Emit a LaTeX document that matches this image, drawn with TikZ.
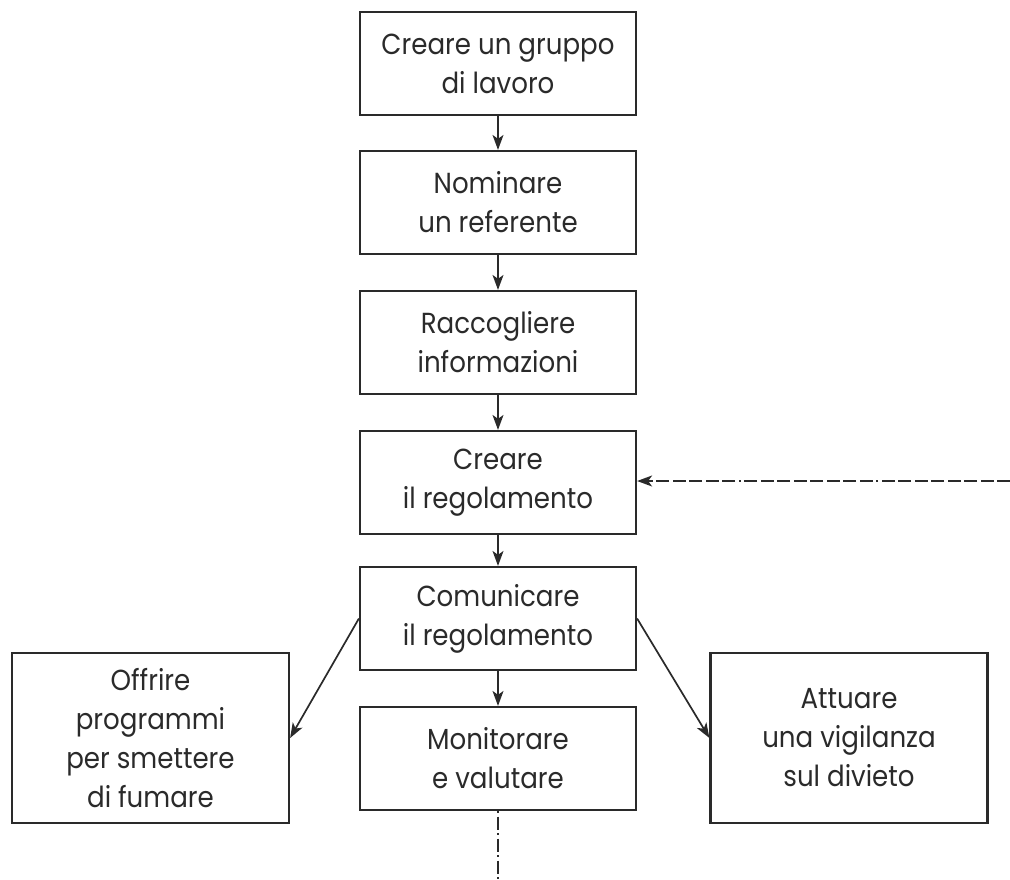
\documentclass[tikz,border=0pt]{standalone}
\usepackage{fontspec}
\setmainfont[FakeStretch=0.9]{Poppins}
\usetikzlibrary{arrows.meta}
\definecolor{ink}{HTML}{2A2A2A}
\begin{document}
\begin{tikzpicture}[x=1pt,y=-1pt,
  box/.style={draw=ink,line width=2.2pt,minimum width=276pt,minimum height=103pt,
    align=center,inner sep=0pt,text=ink,font=\fontsize{29}{39}\selectfont},
  sidebox/.style={box,minimum width=277pt,minimum height=170pt},
  arr/.style={draw=ink,line width=1.7pt,-{Stealth[length=15pt,width=11pt,inset=4pt]}},
  dd/.style={arr,dash pattern=on 13pt off 3.5pt on 13pt off 3.5pt on 13pt off 3.5pt on 13pt off 3.5pt on 13pt off 3.5pt on 13pt off 3.5pt on 13pt off 3.5pt on 13pt off 3.5pt on 2pt off 3.5pt}]
\useasboundingbox (0,0) rectangle (1010,879);
\node[box] (b1) at (498,63.5) {Creare un gruppo\\di lavoro};
\node[box] (b2) at (498,202.5) {Nominare\\un referente};
\node[box] (b3) at (498,342.5) {Raccogliere\\informazioni};
\node[box] (b4) at (498,482.5) {Creare\\il regolamento};
\node[box] (b5) at (498,618.5) {Comunicare\\il regolamento};
\node[box] (b6) at (498,758.5) {Monitorare\\e valutare};
\node[sidebox] (l) at (150.5,738) {Offrire\\programmi\\per smettere\\di fumare};
\node[sidebox] (r) at (849,738) {Attuare\\una vigilanza\\sul divieto};
\coordinate (din) at (1010,481);
\coordinate (dout) at (498,879);
\draw[arr] (b1) -- (b2);
\draw[arr] (b2) -- (b3);
\draw[arr] (b3) -- (b4);
\draw[arr] (b4) -- (b5);
\draw[arr] (b5) -- (b6);
\draw[arr] (b5.west) -- (l.east);
\draw[arr] (b5.east) -- (r.west);
\draw[dd] (din) -- (b4.east |- din);
\draw[draw=ink,line width=1.7pt,dash pattern=on 2pt off 3.5pt on 13pt off 3.5pt on 2pt off 3.5pt on 13pt off 3.5pt] (b6.south) -- (dout);
\end{tikzpicture}
\end{document}
